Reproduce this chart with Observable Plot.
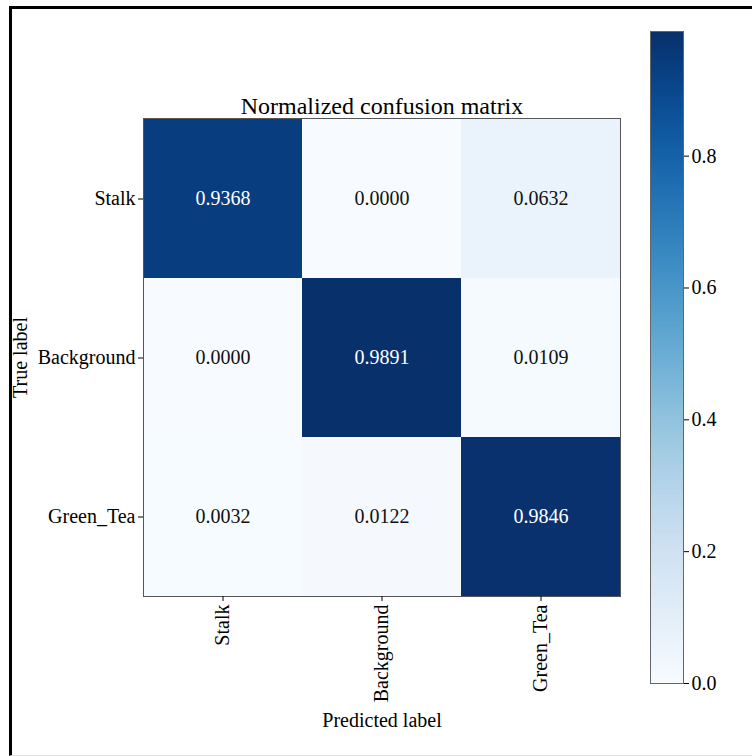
<!DOCTYPE html>
<html><head><meta charset="utf-8">
<script src="https://cdn.jsdelivr.net/npm/d3@7"></script>
<script src="https://cdn.jsdelivr.net/npm/@observablehq/plot@0.6"></script>
<style>
html,body{margin:0;padding:0;background:#fff;}
#wrap{position:relative;width:752px;height:756px;overflow:hidden;background:#fff;}
#wrap svg{position:absolute;left:0;top:0;}
#frame{position:absolute;left:9px;top:6px;right:-10px;bottom:0;border-top:3px solid #000;border-left:3px solid #000;border-bottom:1px solid #e4e4e4;z-index:5;pointer-events:none;}
</style></head><body><div id="wrap"><div id="frame"></div></div>
<script>
const predictedLabels = ["Stalk", "Background", "Green_Tea"];
const trueLabels = ["Stalk", "Background", "Green_Tea"];
const rowStalk = [0.9368, 0.0000, 0.0632];
const rowBackground = [0.0000, 0.9891, 0.0109];
const rowGreenTea = [0.0032, 0.0122, 0.9846];
const colorbarTicks = [0.0, 0.2, 0.4, 0.6, 0.8];
const chartTitle = "Normalized confusion matrix";
const xLabel = "Predicted label";
const yLabel = "True label";

const rows = [rowStalk, rowBackground, rowGreenTea];
const cells = [];
trueLabels.forEach((t, i) => predictedLabels.forEach((p, j) => cells.push({t, p, v: rows[i][j]})));
const vmax = d3.max(cells, d => d.v);
const font = "'Liberation Serif', 'Times New Roman', serif";
const colorScale = {type: "linear", scheme: "blues", domain: [0, vmax]};

const main = Plot.plot({
  width: 752, height: 756,
  marginLeft: 143, marginRight: 132, marginTop: 118, marginBottom: 160,
  style: {fontFamily: font, fontSize: "20px", background: "transparent", color: "#000"},
  x: {domain: predictedLabels, padding: 0},
  y: {domain: trueLabels, padding: 0},
  color: colorScale,
  marks: [
    Plot.cell(cells, {x: "p", y: "t", fill: "v", inset: 0}),
    Plot.text(cells.filter(d => d.v > vmax / 2), {x: "p", y: "t", text: d => d.v.toFixed(4), fill: "white", fontSize: 20}),
    Plot.text(cells.filter(d => d.v <= vmax / 2), {x: "p", y: "t", text: d => d.v.toFixed(4), fill: "#111", fontSize: 20}),
    Plot.frame({stroke: "#555"}),
    Plot.axisX({tickRotate: -90, tickSize: 5, tickPadding: 3, label: xLabel, labelAnchor: "center", labelOffset: 130}),
    Plot.axisY({tickSize: 5, tickPadding: 3, label: yLabel, labelAnchor: "center", labelOffset: 131}),
    Plot.text([chartTitle], {text: d => d, frameAnchor: "top", lineAnchor: "bottom", dy: -5, fontSize: 24})
  ]
});

const bar = Plot.plot({
  width: 752, height: 756,
  marginLeft: 650, marginRight: 69, marginTop: 31, marginBottom: 73,
  style: {fontFamily: font, fontSize: "20px", background: "transparent", color: "#000"},
  x: {domain: [0, 1], axis: null},
  y: {domain: [0, vmax]},
  color: colorScale,
  marks: [
    Plot.raster({x1: 0, x2: 1, y1: 0, y2: vmax, width: 1, height: 400, fill: (x, y) => y}),
    Plot.frame({stroke: "#666"}),
    Plot.axisY({anchor: "right", ticks: colorbarTicks, tickFormat: d3.format(".1f"), tickSize: 5, tickPadding: 3, label: null})
  ]
});

const wrap = document.getElementById("wrap");
wrap.insertBefore(main, wrap.firstChild);
wrap.insertBefore(bar, main.nextSibling);
</script>
</body></html>
